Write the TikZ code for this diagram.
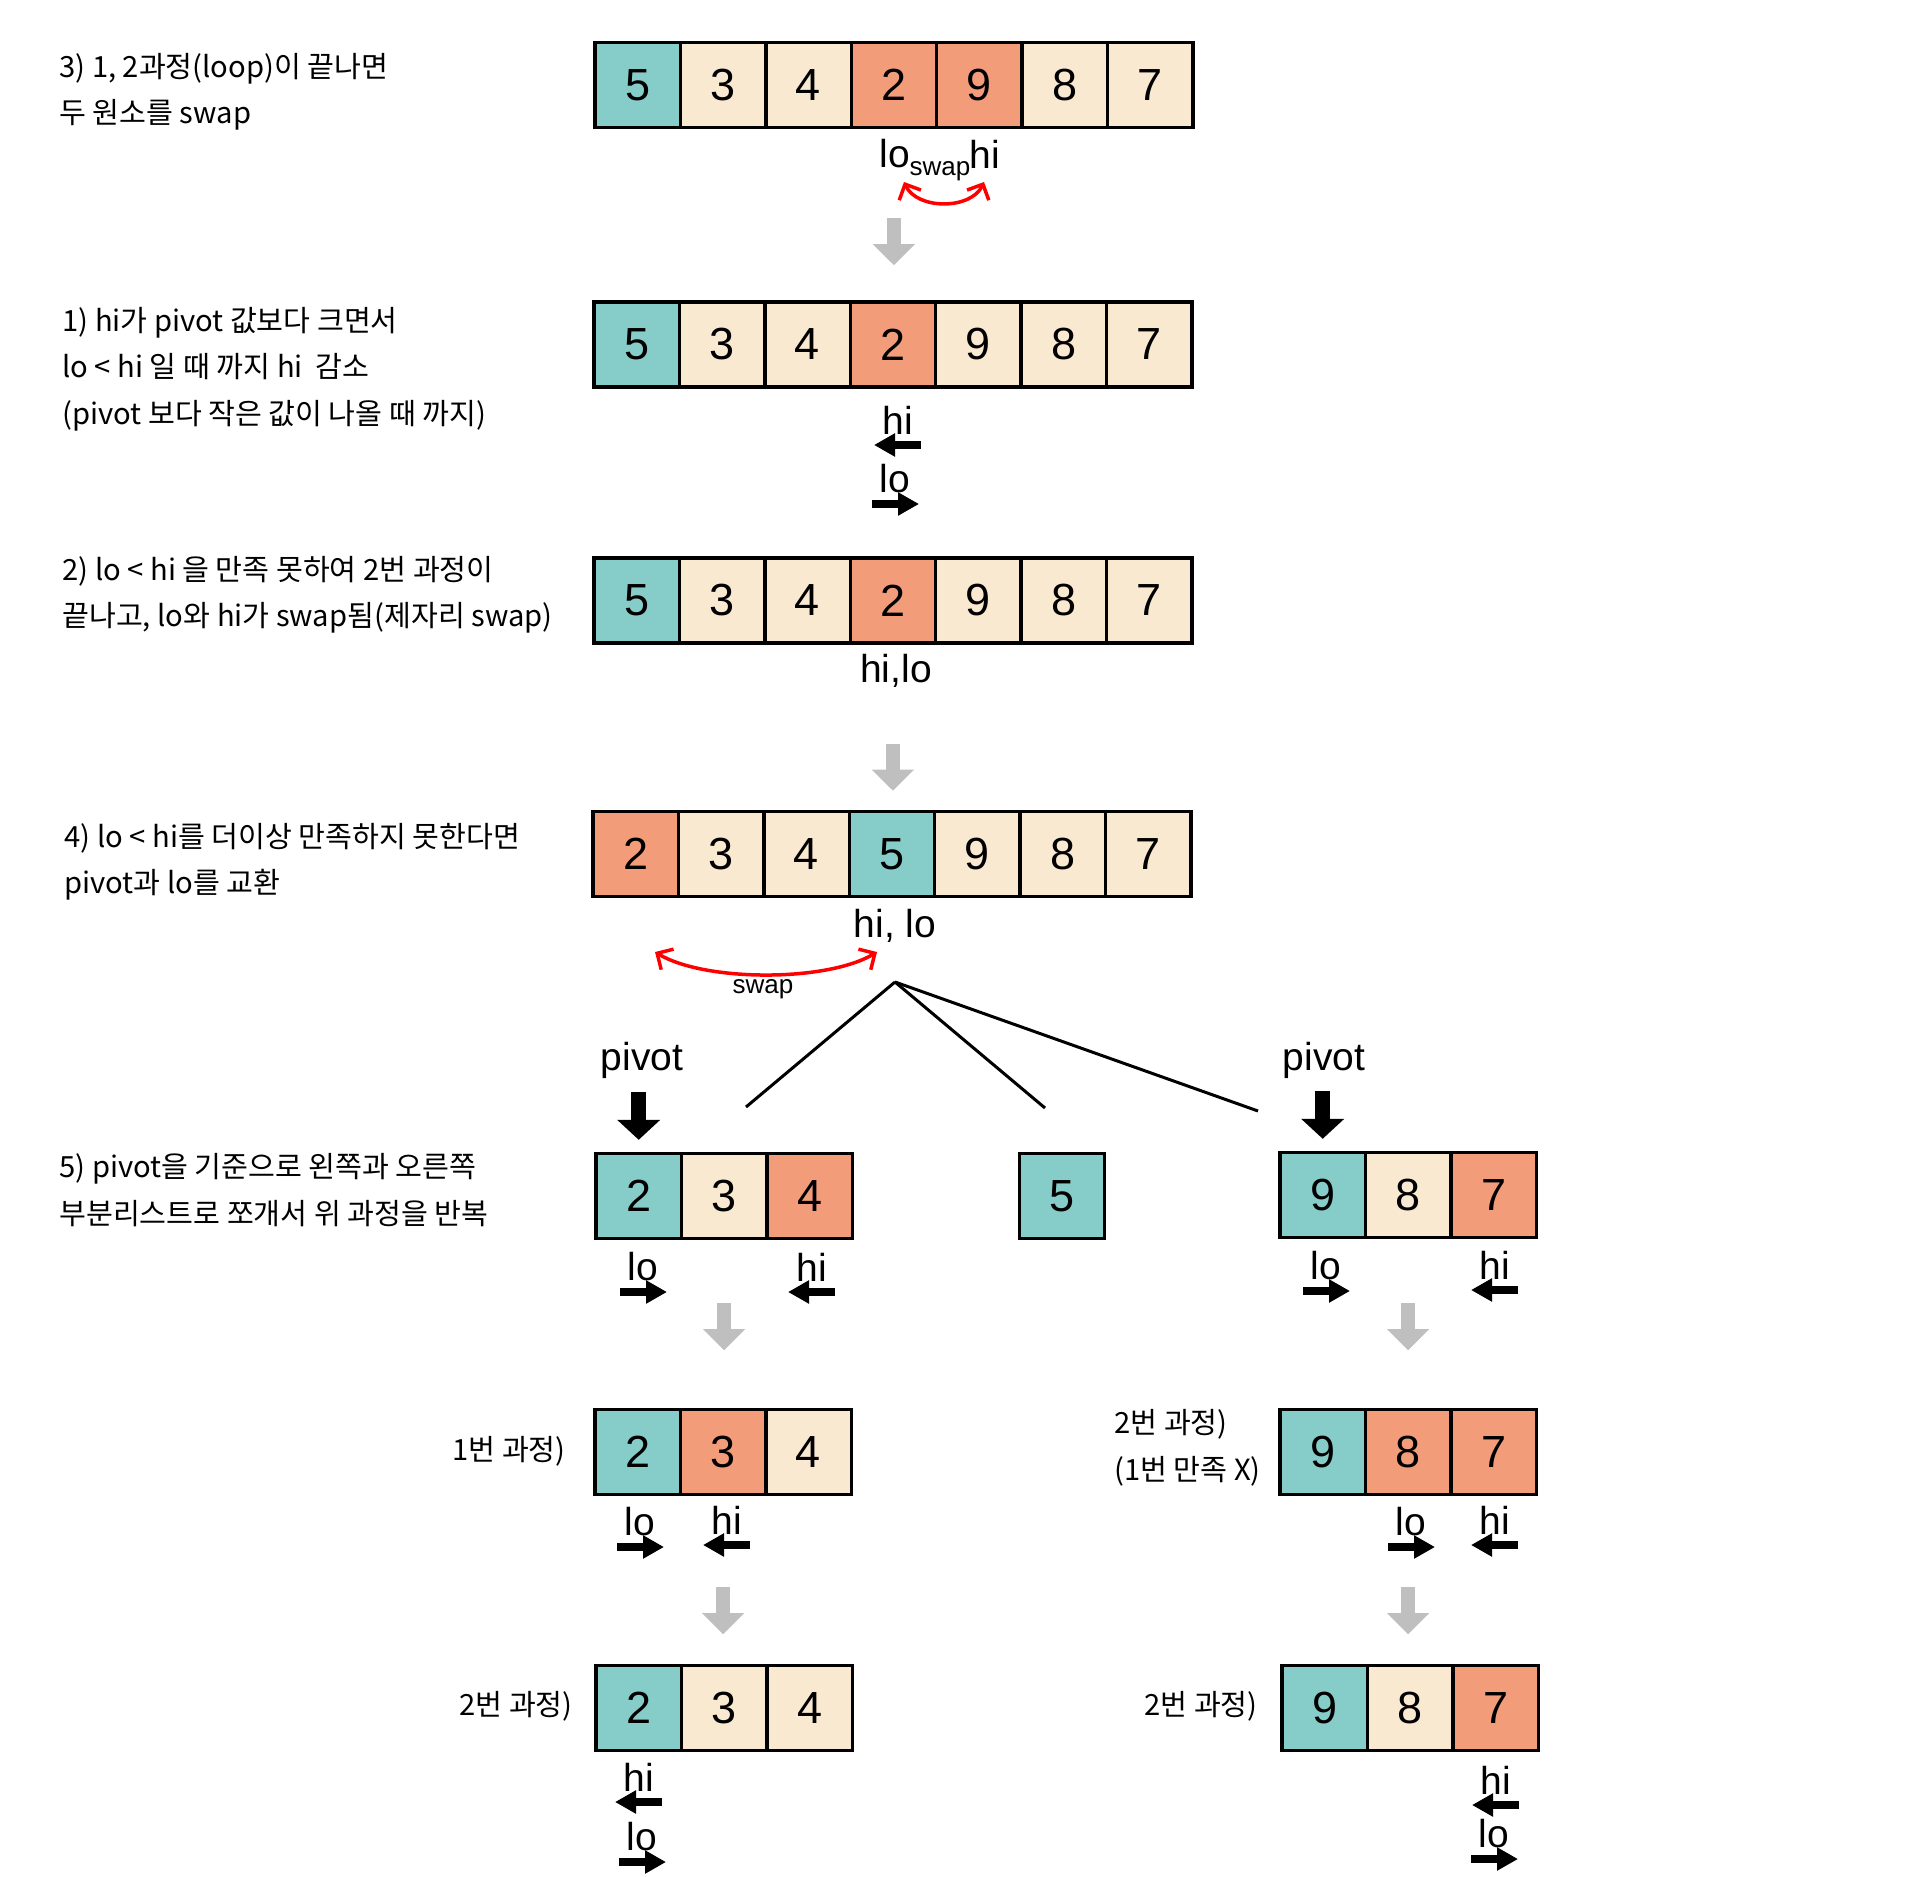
\documentclass[tikz,border=0pt]{standalone}
\usepackage{fontspec}
\setmainfont{Liberation Sans}
\newfontfamily\kr{Noto Sans CJK KR}
\usetikzlibrary{arrows.meta}
\definecolor{cteal}{RGB}{134,204,200}
\definecolor{cbeige}{RGB}{250,233,209}
\definecolor{csalmon}{RGB}{242,156,122}
\definecolor{cgray}{RGB}{191,191,191}

\begin{document}
\begin{tikzpicture}[x=0.5pt, y=-0.5pt,
    cell/.style={draw, line width=1.7pt, minimum width=42.7pt, minimum height=42.5pt,
        inner sep=0pt, font=\fontsize{22.5}{26}\selectfont},
    idx/.style={inner sep=0pt, font=\fontsize{19.5}{22}\selectfont},
    small/.style={inner sep=0pt, font=\fontsize{13}{15}\selectfont},
    note/.style={align=left, inner sep=0pt, font=\kr\fontsize{14.6}{23.25}\selectfont},
    ptr/.style={line width=4pt, -{Triangle[length=10.5pt, width=11pt]}},
    down/.style={line width=7pt, color=cgray, -{Triangle[length=10.5pt, width=20.5pt]}},
    pivarrow/.style={line width=7.5pt, -{Triangle[length=10pt, width=21pt]}},
    swaparc/.style={red, line width=1.75pt,
        {Straight Barb[length=6pt, width=12pt]}-{Straight Barb[length=6pt, width=12pt]}},
    branch/.style={line width=1.5pt}
]
\useasboundingbox (0,0) rectangle (1920,1877);

% --- notes on the left
\node[note, anchor=west] (n3) at (59,92) {3) 1, 2과정(loop)이 끝나면\\두 원소를 swap};
\node[note, anchor=west] (n1) at (62,369) {1) hi가 pivot 값보다 크면서\\lo < hi 일 때 까지 hi\ \ 감소\\(pivot 보다 작은 값이 나올 때 까지)};
\node[note, anchor=west] (n2) at (62,595) {2) lo < hi 을 만족 못하여 2번 과정이\\끝나고, lo와 hi가 swap됨(제자리 swap)};
\node[note, anchor=west] (n4) at (64,862) {4) lo < hi를 더이상 만족하지 못한다면\\pivot과 lo를 교환};
\node[note, anchor=west] (n5) at (59,1190) {5) pivot을 기준으로 왼쪽과 오른쪽\\부분리스트로 쪼개서 위 과정을 반복};
\node[note, anchor=east] (n6L) at (566,1451) {1번 과정)};
\node[note, anchor=west] (n6R) at (1114,1448) {2번 과정)\\(1번 만족 X)};
\node[note, anchor=east] (n7L) at (573,1706) {2번 과정)};
\node[note, anchor=east] (n7R) at (1258,1706) {2번 과정)};

% --- arrays
\foreach \v/\c [count=\i] in {5/cteal,3/cbeige,4/cbeige,2/csalmon,9/csalmon,8/cbeige,7/cbeige}
    \node[cell, fill=\c] (a\i) at ({595+85.4*(\i-0.5)},85) {\v};
\foreach \v/\c [count=\i] in {5/cteal,3/cbeige,4/cbeige,2/csalmon,9/cbeige,8/cbeige,7/cbeige}
    \node[cell, fill=\c] (b\i) at ({594+85.4*(\i-0.5)},344.5) {\v};
\foreach \v/\c [count=\i] in {5/cteal,3/cbeige,4/cbeige,2/csalmon,9/cbeige,8/cbeige,7/cbeige}
    \node[cell, fill=\c] (c\i) at ({594+85.4*(\i-0.5)},600.5) {\v};
\foreach \v/\c [count=\i] in {2/csalmon,3/cbeige,4/cbeige,5/cteal,9/cbeige,8/cbeige,7/cbeige}
    \node[cell, fill=\c] (d\i) at ({593+85.4*(\i-0.5)},854) {\v};
\foreach \v/\c [count=\i] in {2/cteal,3/cbeige,4/csalmon}
    \node[cell, fill=\c] (eL\i) at ({596+85.4*(\i-0.5)},1196) {\v};
\node[cell, fill=cteal] (eM) at (1062,1196) {5};
\foreach \v/\c [count=\i] in {9/cteal,8/cbeige,7/csalmon}
    \node[cell, fill=\c] (eR\i) at ({1280+85.4*(\i-0.5)},1195) {\v};
\foreach \v/\c [count=\i] in {2/cteal,3/csalmon,4/cbeige}
    \node[cell, fill=\c] (fL\i) at ({595+85.4*(\i-0.5)},1452) {\v};
\foreach \v/\c [count=\i] in {9/cteal,8/csalmon,7/csalmon}
    \node[cell, fill=\c] (fR\i) at ({1280+85.4*(\i-0.5)},1452) {\v};
\foreach \v/\c [count=\i] in {2/cteal,3/cbeige,4/cbeige}
    \node[cell, fill=\c] (gL\i) at ({596+85.4*(\i-0.5)},1708) {\v};
\foreach \v/\c [count=\i] in {9/cteal,8/cbeige,7/csalmon}
    \node[cell, fill=\c] (gR\i) at ({1282+85.4*(\i-0.5)},1708) {\v};

% --- lo / hi labels
\node[idx] (alo) at (895,154) {lo};
\node[small] (asw) at (940,171) {swap};
\node[idx] (ahi) at (985,154) {hi};
\node[idx] (bhi) at (898,420) {hi};
\node[idx] (blo) at (895,479) {lo};
\node[idx] (chl) at (896,671) {hi,lo};
\node[idx] (dhl) at (895,926) {hi, lo};
\node[small] (dsw) at (763,989) {swap};
\node[idx] (pvL) at (642,1060) {pivot};
\node[idx] (pvR) at (1324,1060) {pivot};
\node[idx] (eLlo) at (643,1267) {lo};
\node[idx] (eLhi) at (812,1267) {hi};
\node[idx] (eRlo) at (1326,1266) {lo};
\node[idx] (eRhi) at (1495,1265) {hi};
\node[idx] (fLlo) at (640,1522) {lo};
\node[idx] (fLhi) at (727,1520) {hi};
\node[idx] (fRlo) at (1411,1522) {lo};
\node[idx] (fRhi) at (1495,1520) {hi};
\node[idx] (gLhi) at (639,1777) {hi};
\node[idx] (gLlo) at (642,1837) {lo};
\node[idx] (gRhi) at (1496,1780) {hi};
\node[idx] (gRlo) at (1494,1834) {lo};

% --- pointer arrows
\foreach \n in {bhi,eLhi,eRhi,fLhi,fRhi,gLhi,gRhi}
    \draw[ptr] ([shift={(23,25)}]\n.center) -- ++(-47,0);
\foreach \n in {blo,eLlo,eRlo,fLlo,fRlo,gLlo,gRlo}
    \draw[ptr] ([shift={(-23,25)}]\n.center) -- ++(47,0);

% --- swaps
\coordinate (s1a) at (904,182);
\coordinate (s1b) at (984,182);
\draw[swaparc] (s1a) .. controls (917,210) and (971,210) .. (s1b);
\coordinate (s4a) at (655,952);
\coordinate (s4b) at (877,952);
\draw[swaparc] (s4a) .. controls (705,982) and (827,982) .. (s4b);

% --- split
\coordinate (root) at (895,982);
\coordinate (kidL) at (746,1107);
\coordinate (kidM) at (1045,1108);
\coordinate (kidR) at (1258,1111);
\draw[branch] (root) -- (kidL);
\draw[branch] (root) -- (kidM);
\draw[branch] (root) -- (kidR);

\draw[pivarrow] ([yshift=30pt]eL1.north) -- ([yshift=6pt]eL1.north);
\draw[pivarrow] ([yshift=30pt]eR1.north) -- ([yshift=6pt]eR1.north);

% --- steps
\draw[down] ([yshift=-44.5pt]a4.south) -- ++(0,47);
\draw[down] ([yshift=-49.5pt]c4.south) -- ++(0,47);
\draw[down] ([yshift=-31.5pt]eL2.south) -- ++(0,47);
\draw[down] ([yshift=-32pt]eR2.south) -- ++(0,47);
\draw[down] ([yshift=-45.5pt]fL2.south) -- ++(0,47);
\draw[down] ([yshift=-45.5pt]fR2.south) -- ++(0,47);
\end{tikzpicture}
\end{document}
